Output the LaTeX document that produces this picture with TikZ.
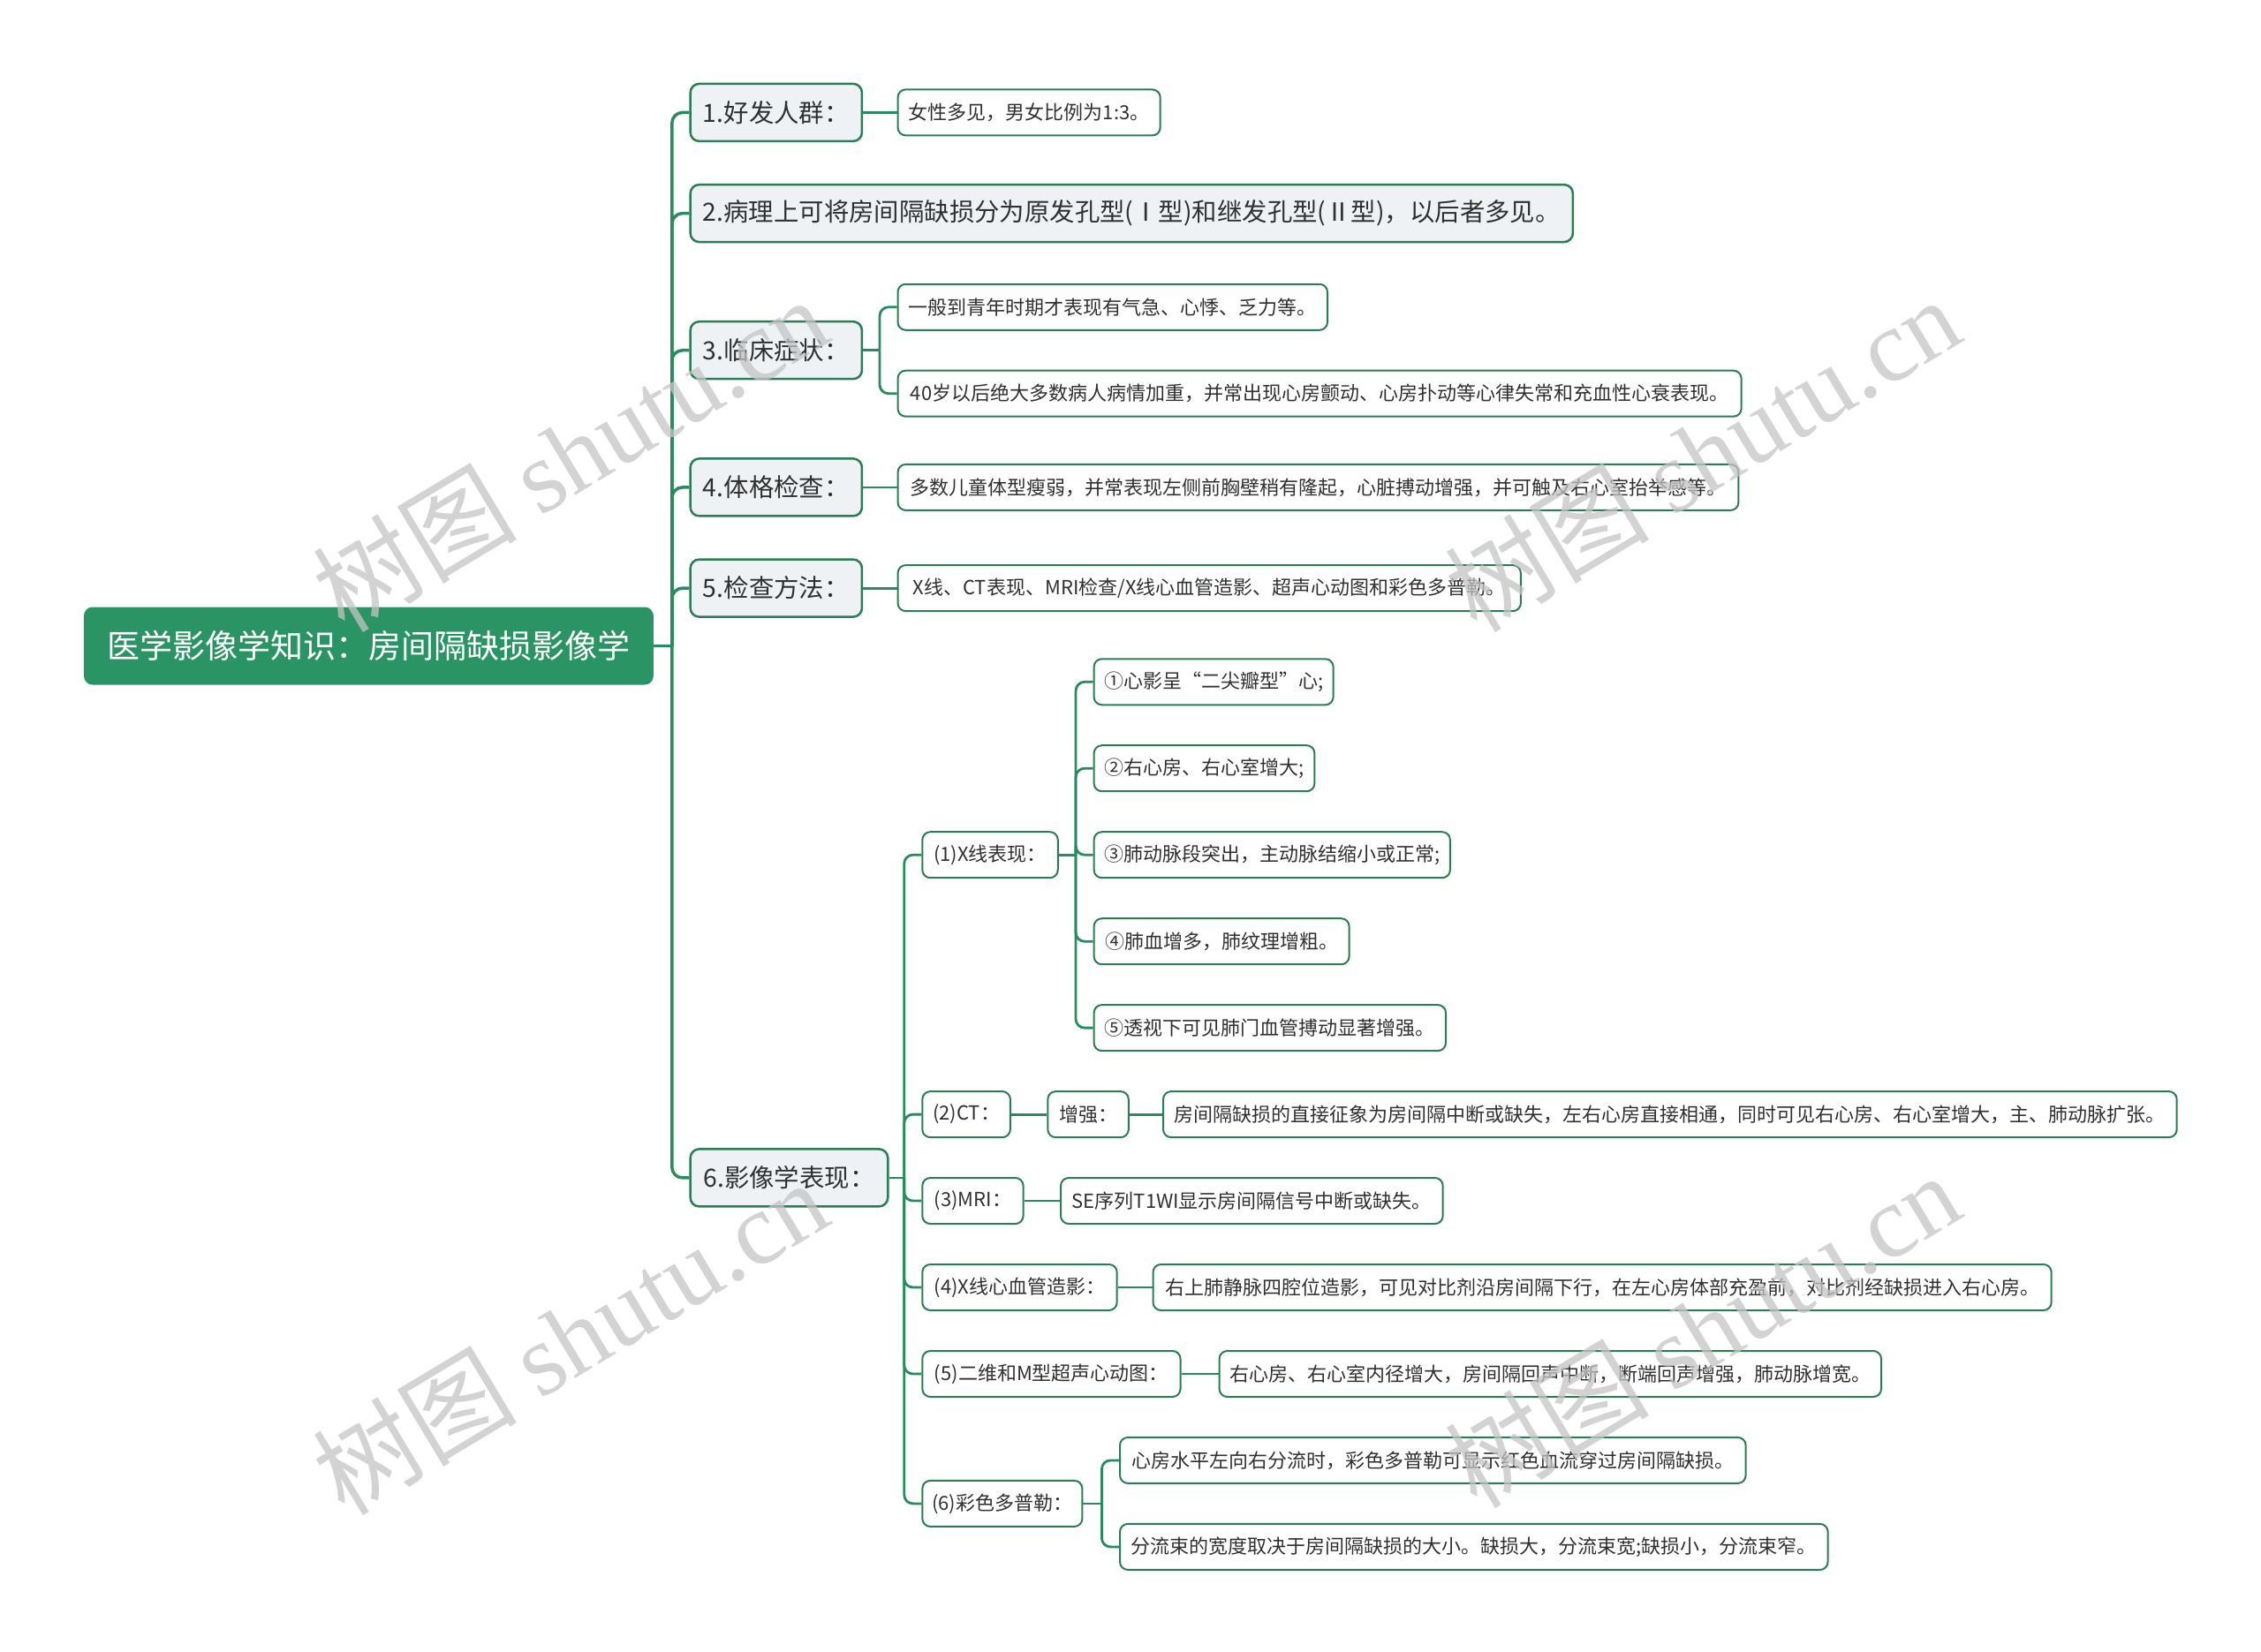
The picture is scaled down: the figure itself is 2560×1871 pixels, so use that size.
\documentclass[tikz,border=0pt]{standalone}
\usepackage{fontspec}
\setmainfont{Noto Sans CJK SC}
\newfontfamily\wmlatin{Liberation Serif}
\newfontfamily\wmcjk{Noto Sans CJK SC}
\definecolor{rootgreen}{HTML}{2B9464}
\definecolor{linegreen}{HTML}{2A8C5E}
\definecolor{bordergreen}{HTML}{2A7D55}
\definecolor{lonefill}{HTML}{EEF2F5}
\definecolor{txtc}{HTML}{303030}
\definecolor{wmgray}{HTML}{C4C4C4}
\newcommand{\fsroot}{\fontsize{37pt}{44pt}\selectfont}
\newcommand{\fsone}{\fontsize{28.4pt}{34pt}\selectfont}
\newcommand{\fstwo}{\fontsize{22pt}{27pt}\selectfont}
\tikzset{
  rootbox/.style={fill=rootgreen, rounded corners=10pt, text=white, font=\fsroot, minimum height=88pt, anchor=west, inner xsep=14pt},
  lone/.style={fill=lonefill, draw=bordergreen, line width=2.5pt, rounded corners=10pt, text=txtc, font=\fsone, minimum height=65pt, anchor=west, inner xsep=14pt},
  ltwo/.style={fill=white, draw=bordergreen, line width=2pt, rounded corners=9pt, text=txtc, font=\fstwo, minimum height=52pt, anchor=west, inner xsep=11pt},
  link/.style={draw=linegreen, line width=3.5pt, rounded corners=12pt},
  linktwo/.style={draw=linegreen, line width=2.8pt, rounded corners=10pt},
  wm/.style={text=wmgray, opacity=0.75, rotate=31, font=\fontsize{116pt}{120pt}\selectfont}
}
\begin{document}
\begin{tikzpicture}[x=1pt,y=-1pt]
\useasboundingbox (0,0) rectangle (2560,1871);
% root
\node[rootbox, minimum width=645pt] (root) at (94.7,731.5) {医学影像学知识：房间隔缺损影像学};
% level 1
\node[lone, minimum width=194.3pt] (n1) at (780.4,127.4) {1.好发人群：};
\node[lone, minimum width=999.2pt] (n2) at (780.4,241.6) {2.病理上可将房间隔缺损分为原发孔型(Ⅰ型)和继发孔型(Ⅱ型)，以后者多见。};
\node[lone, minimum width=194.3pt] (n3) at (780.4,396.7) {3.临床症状：};
\node[lone, minimum width=194.3pt] (n4) at (780.4,551.9) {4.体格检查：};
\node[lone, minimum width=194.3pt] (n5) at (780.4,666.1) {5.检查方法：};
\node[lone, minimum width=223.6pt] (n6) at (780.4,1333.9) {6.影像学表现：};
% leaves of 1-5
\node[ltwo, minimum width=297.2pt] (n1a) at (1015.5,127.4) {女性多见，男女比例为1:3。};
\node[ltwo, minimum width=486.5pt] (n3a) at (1015.5,347.8) {一般到青年时期才表现有气急、心悸、乏力等。};
\node[ltwo, minimum width=955.2pt] (n3b) at (1015.5,445.7) {40岁以后绝大多数病人病情加重，并常出现心房颤动、心房扑动等心律失常和充血性心衰表现。};
\node[ltwo, minimum width=951.9pt] (n4a) at (1015.5,551.9) {多数儿童体型瘦弱，并常表现左侧前胸壁稍有隆起，心脏搏动增强，并可触及右心室抬举感等。};
\node[ltwo, minimum width=705.4pt] (n5a) at (1015.5,666.1) {X线、CT表现、MRI检查/X线心血管造影、超声心动图和彩色多普勒。};
% children of 6
\node[ltwo, minimum width=153.5pt] (c1) at (1043.3,968.2) {(1)X线表现：};
\node[ltwo, minimum width=99.6pt] (c2) at (1043.3,1262.1) {(2)CT：};
\node[ltwo, minimum width=114.3pt] (c3) at (1043.3,1360.0) {(3)MRI：};
\node[ltwo, minimum width=220.4pt] (c4) at (1043.3,1458.0) {(4)X线心血管造影：};
\node[ltwo, minimum width=292.2pt] (c5) at (1043.3,1556.0) {(5)二维和M型超声心动图：};
\node[ltwo, minimum width=179.6pt] (c6) at (1043.3,1702.9) {(6)彩色多普勒：};
% (1) children
\node[ltwo, minimum width=271pt] (x1) at (1237.6,772.3) {①心影呈“二尖瓣型”心;};
\node[ltwo, minimum width=249.8pt] (x2) at (1237.6,870.2) {②右心房、右心室增大;};
\node[ltwo, minimum width=403.3pt] (x3) at (1237.6,968.2) {③肺动脉段突出，主动脉结缩小或正常;};
\node[ltwo, minimum width=289pt] (x4) at (1237.6,1066.2) {④肺血增多，肺纹理增粗。};
\node[ltwo, minimum width=398.4pt] (x5) at (1237.6,1164.1) {⑤透视下可见肺门血管搏动显著增强。};
% (2)-(5) children
\node[ltwo, minimum width=91.5pt] (ct1) at (1185.3,1262.1) {增强：};
\node[ltwo, minimum width=1147.7pt] (ct2) at (1316,1262.1) {房间隔缺损的直接征象为房间隔中断或缺失，左右心房直接相通，同时可见右心房、右心室增大，主、肺动脉扩张。};
\node[ltwo, minimum width=432.7pt] (mr1) at (1200,1360.0) {SE序列T1WI显示房间隔信号中断或缺失。};
\node[ltwo, minimum width=1017.2pt] (dsa1) at (1304.5,1458.0) {右上肺静脉四腔位造影，可见对比剂沿房间隔下行，在左心房体部充盈前，对比剂经缺损进入右心房。};
\node[ltwo, minimum width=749.4pt] (ec1) at (1379.6,1556.0) {右心房、右心室内径增大，房间隔回声中断，断端回声增强，肺动脉增宽。};
% (6) children
\node[ltwo, minimum width=708.6pt] (d1) at (1267,1653.9) {心房水平左向右分流时，彩色多普勒可显示红色血流穿过房间隔缺损。};
\node[ltwo, minimum width=801.6pt] (d2) at (1267,1751.9) {分流束的宽度取决于房间隔缺损的大小。缺损大，分流束宽;缺损小，分流束窄。};
% junction points
\coordinate (t0) at (760.8,731.5);
\coordinate (t3) at (996,396.7);
\coordinate (t6) at (1023.7,1333.9);
\coordinate (t61) at (1218,968.2);
\coordinate (t66) at (1247.4,1702.9);
% connectors
\draw[link] (root.east) -- (t0);
\foreach \c in {n1,n2,n3,n4,n5,n6} \draw[link] (t0) |- (\c.west);
\draw[linktwo] (n1.east) -- (n1a.west);
\draw[linktwo] (n3.east) -- (t3);
\foreach \c in {n3a,n3b} \draw[linktwo] (t3) |- (\c.west);
\draw[linktwo] (n4.east) -- (n4a.west);
\draw[linktwo] (n5.east) -- (n5a.west);
\draw[linktwo] (n6.east) -- (t6);
\foreach \c in {c1,c2,c3,c4,c5,c6} \draw[linktwo] (t6) |- (\c.west);
\draw[linktwo] (c1.east) -- (t61);
\foreach \c in {x1,x2,x3,x4,x5} \draw[linktwo] (t61) |- (\c.west);
\draw[linktwo] (c2.east) -- (ct1.west);
\draw[linktwo] (ct1.east) -- (ct2.west);
\draw[linktwo] (c3.east) -- (mr1.west);
\draw[linktwo] (c4.east) -- (dsa1.west);
\draw[linktwo] (c5.east) -- (ec1.west);
\draw[linktwo] (c6.east) -- (t66);
\foreach \c in {d1,d2} \draw[linktwo] (t66) |- (\c.west);
% watermarks
\node[wm] (wma) at (645,514) {\wmcjk 树图 \wmlatin shutu.cn};
\node[wm] (wmb) at (1927,514) {\wmcjk 树图 \wmlatin shutu.cn};
\node[wm] (wmc) at (645,1514) {\wmcjk 树图 \wmlatin shutu.cn};
\node[wm] (wmd) at (1927,1506) {\wmcjk 树图 \wmlatin shutu.cn};
\end{tikzpicture}
\end{document}
